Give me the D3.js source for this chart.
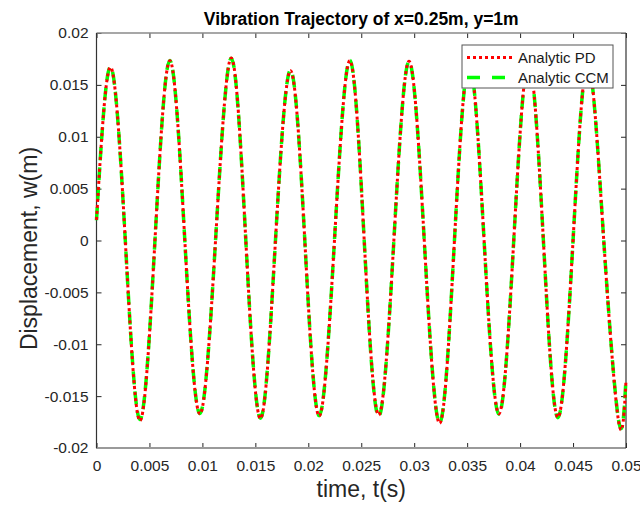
<!DOCTYPE html>
<html>
<head>
<meta charset="utf-8">
<script src="https://cdn.jsdelivr.net/npm/d3@7"></script>
<style>
    body { margin: 0; background: #fff; }
    text { font-family: "Liberation Sans", Arial, sans-serif; }
</style>
</head>
<body>
<div id="chart"></div>
<script>
// time samples (s): start, then peaks / zero crossings / troughs
let timeValues = [0, 0.00134, 0.00272, 0.0041, 0.00552, 0.00693, 0.00834, 0.00976, 0.01124, 0.01272,
    0.0141, 0.01549, 0.0169, 0.01832, 0.01967, 0.02102, 0.02247, 0.02392, 0.02528, 0.02665,
    0.02808, 0.02951, 0.03095, 0.0324, 0.0338, 0.0352, 0.0366, 0.038, 0.0394, 0.0408,
    0.0422, 0.04357, 0.045, 0.0464, 0.0479, 0.04932, 0.05]

let pdValues = [0.00198, 0.0167, 0, -0.01737, 0, 0.01733, 0, -0.01672, 0, 0.01759,
    0, -0.01717, 0, 0.01637, 0, -0.01692, 0, 0.01733, 0, -0.01682,
    0, 0.01727, 0, -0.01762, 0, 0.0171, 0, -0.01669, 0, 0.0172,
    0, -0.01704, 0, 0.0171, 0, -0.01756, -0.0135]

let ccmValues = [0.00195, 0.01672, 0, -0.01725, 0, 0.01735, 0, -0.01668, 0, 0.01756,
    0, -0.01712, 0, 0.01641, 0, -0.01688, 0, 0.01736, 0, -0.01695,
    0, 0.01724, 0, -0.01755, 0, 0.0171, 0, -0.01675, 0, 0.0172,
    0, -0.01708, 0, 0.0171, 0, -0.01745, -0.0133]

let xTicks = [0, 0.005, 0.01, 0.015, 0.02, 0.025, 0.03, 0.035, 0.04, 0.045, 0.05]
let yTicks = [-0.02, -0.015, -0.01, -0.005, 0, 0.005, 0.01, 0.015, 0.02]
let seriesNames = ["Analytic PD", "Analytic CCM"]

let width = 640,
    height = 507
let margin = { left: 96.5, right: 14, top: 33, bottom: 59 }

let svg = d3.select('#chart')
    .append('svg')
    .attr("width", width)
    .attr("height", height)

let x = d3.scaleLinear().domain([0, 0.05]).range([margin.left, width - margin.right])
let y = d3.scaleLinear().domain([-0.02, 0.02]).range([height - margin.bottom, margin.top])

let fmt = function(d) { return d === 0 ? "0" : String(d) }

// axes with inward ticks
let tickColor = "#262626"
let xAxis = svg.append("g")
    .attr("transform", "translate(0," + y(-0.02) + ")")
    .call(d3.axisBottom(x).tickValues(xTicks).tickFormat(fmt).tickSizeInner(-5).tickSizeOuter(0).tickPadding(12))
let xTop = svg.append("g")
    .attr("transform", "translate(0," + y(0.02) + ")")
    .call(d3.axisTop(x).tickValues(xTicks).tickFormat("").tickSizeInner(-5).tickSizeOuter(0))
let yAxis = svg.append("g")
    .attr("transform", "translate(" + x(0) + ",0)")
    .call(d3.axisLeft(y).tickValues(yTicks).tickFormat(fmt).tickSizeInner(-5).tickSizeOuter(0).tickPadding(8))
let yRight = svg.append("g")
    .attr("transform", "translate(" + x(0.05) + ",0)")
    .call(d3.axisRight(y).tickValues(yTicks).tickFormat("").tickSizeInner(-5).tickSizeOuter(0))

svg.selectAll(".domain").remove()
svg.selectAll(".tick line").attr("stroke", tickColor)
svg.selectAll(".tick text")
    .attr("fill", tickColor)
    .style("font-size", "15.5px")
    .style("font-family", '"Liberation Sans", Arial, sans-serif')

// box
svg.append("line").attr("x1", x(0)).attr("x2", x(0.05)).attr("y1", y(-0.02)).attr("y2", y(-0.02))
    .attr("stroke", "#9a9a9a").attr("stroke-width", 2)
svg.append("line").attr("x1", x(0)).attr("x2", x(0.05)).attr("y1", y(0.02)).attr("y2", y(0.02))
    .attr("stroke", "#8a8a8a").attr("stroke-width", 1.5)
svg.append("line").attr("x1", x(0)).attr("x2", x(0)).attr("y1", y(-0.02)).attr("y2", y(0.02))
    .attr("stroke", "#333").attr("stroke-width", 1.2)
svg.append("line").attr("x1", x(0.05)).attr("x2", x(0.05)).attr("y1", y(-0.02)).attr("y2", y(0.02))
    .attr("stroke", "#333").attr("stroke-width", 1.2)

// data lines
let pdData = timeValues.map(function(t, i) { return { t: t, w: pdValues[i] } })
let ccmData = timeValues.map(function(t, i) { return { t: t, w: ccmValues[i] } })

let line = d3.line()
    .x(function(d) { return x(d.t) })
    .y(function(d) { return y(d.w) })
    .curve(d3.curveNatural)

let plot = svg.append("g")

plot.append("path")
    .datum(ccmData)
    .attr("d", line)
    .attr("fill", "none")
    .attr("stroke", "#00ff00")
    .attr("stroke-width", 3.5)
    .attr("stroke-dasharray", "13,7")

plot.append("path")
    .datum(pdData)
    .attr("d", line)
    .attr("fill", "none")
    .attr("stroke", "#ff0000")
    .attr("stroke-width", 3)
    .attr("stroke-dasharray", "3,3")

// legend
let legend = svg.append("g")
legend.append("rect")
    .attr("x", 462).attr("y", 45).attr("width", 151).attr("height", 43)
    .attr("fill", "#fff").attr("stroke", "#555").attr("stroke-width", 1)

let legendStyles = [
    { color: "#ff0000", dash: "3,3", w: 3 },
    { color: "#00ff00", dash: "13,12", w: 3.5 }
]
seriesNames.forEach(function(name, i) {
    let ly = 57.5 + i * 20
    legend.append("line")
        .attr("x1", 467).attr("x2", 513).attr("y1", ly).attr("y2", ly)
        .attr("stroke", legendStyles[i].color)
        .attr("stroke-width", legendStyles[i].w)
        .attr("stroke-dasharray", legendStyles[i].dash)
    legend.append("text")
        .attr("x", 518).attr("y", ly + 5.5)
        .attr("fill", "#1a1a1a")
        .style("font-size", "15px")
        .text(name)
})

// title and labels
svg.append("text")
    .attr("x", (x(0) + x(0.05)) / 2).attr("y", 24.5)
    .attr("text-anchor", "middle")
    .style("font-size", "17.5px").style("font-weight", "bold")
    .attr("fill", "#000")
    .text("Vibration Trajectory of x=0.25m, y=1m")

svg.append("text")
    .attr("x", (x(0) + x(0.05)) / 2).attr("y", 497)
    .attr("text-anchor", "middle")
    .style("font-size", "23px")
    .attr("fill", tickColor)
    .text("time, t(s)")

svg.append("text")
    .attr("transform", "translate(37," + ((y(0.02) + y(-0.02)) / 2 + 8) + ") rotate(-90)")
    .attr("text-anchor", "middle")
    .style("font-size", "23px")
    .attr("fill", tickColor)
    .text("Displacement, w(m)")
</script>
</body>
</html>
